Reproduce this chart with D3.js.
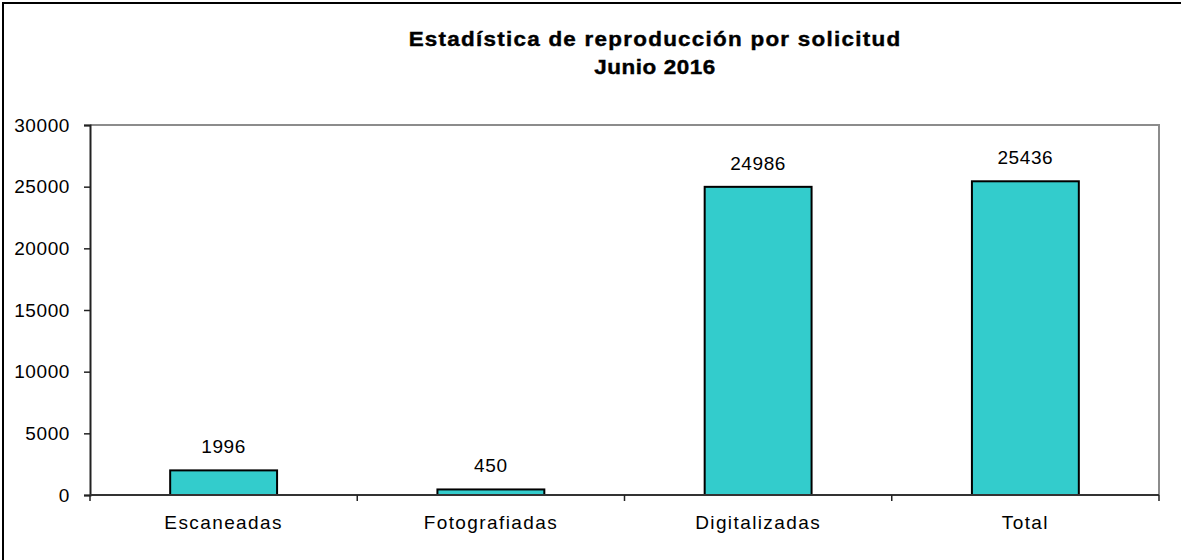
<!DOCTYPE html>
<html>
<head>
<meta charset="utf-8">
<script src="https://cdn.jsdelivr.net/npm/d3@7"></script>
<style>
  body { margin: 0; background: #fff; }
  svg text { font-family: "Liberation Sans", Arial, sans-serif; fill: #000; }
</style>
</head>
<body>
<div id="chart"></div>
<script>
// data
var categories = ["Escaneadas", "Fotografiadas", "Digitalizadas", "Total"];
var values = [1996, 450, 24986, 25436];
var yTicks = [0, 5000, 10000, 15000, 20000, 25000, 30000];
var titleLines = ["Estadística de reproducción por solicitud", "Junio 2016"];

drawChart();

function drawChart() {
    const width = 1181;
    const height = 560;
    const plot = { left: 90, right: 1159, top: 125, bottom: 495 };

    const svg = d3.select("#chart").append("svg")
        .attr("width", width)
        .attr("height", height);

    // outer frame (only top and left show in the picture)
    svg.append("path")
        .attr("d", `M3,${height} L3,3 L${width},3`)
        .attr("fill", "none")
        .attr("stroke", "#000")
        .attr("stroke-width", 2);

    // title, a bit stretched sideways like the original
    svg.append("g").selectAll("text")
        .data(titleLines)
        .enter()
        .append("text")
        .attr("transform", (d, i) => `translate(655,${46 + i * 28}) scale(1.15,1)`)
        .attr("text-anchor", "middle")
        .style("font-size", "19.5px")
        .style("font-weight", "bold")
        .style("stroke", "#000")
        .style("stroke-width", "0.4px")
        .style("letter-spacing", (d, i) => i == 0 ? "1.1px" : "0.5px")
        .text(d => d);

    // scales
    const x = d3.scaleBand()
        .domain(categories)
        .range([plot.left, plot.right])
        .paddingInner(0.6)
        .paddingOuter(0.3);

    const y = d3.scaleLinear()
        .domain([0, 30000])
        .range([plot.bottom, plot.top]);

    // plot frame, top and right in gray
    svg.append("path")
        .attr("d", `M${plot.left},${plot.top} L${plot.right},${plot.top} L${plot.right},${plot.bottom}`)
        .attr("fill", "none")
        .attr("stroke", "#8c8c8c")
        .attr("stroke-width", 2);

    // y axis
    const yAxis = svg.append("g")
        .attr("transform", `translate(${plot.left},0)`)
        .call(d3.axisLeft(y).tickValues(yTicks).tickSize(6).tickPadding(14).tickFormat(d3.format("d")));
    yAxis.select(".domain").attr("stroke", "#222").attr("stroke-width", 2);
    yAxis.selectAll(".tick line").attr("stroke", "#222").attr("stroke-width", 1.5);
    yAxis.selectAll("text")
        .style("font-size", "19px")
        .style("letter-spacing", "0.6px")
        .attr("fill", "#000");

    // bars
    svg.append("g").selectAll("rect")
        .data(values)
        .enter()
        .append("rect")
        .attr("x", (d, i) => x(categories[i]))
        .attr("y", d => y(d))
        .attr("width", x.bandwidth())
        .attr("height", d => y(0) - y(d))
        .attr("fill", "#33CCCC")
        .attr("stroke", "#000")
        .attr("stroke-width", 2);

    // x axis, with ticks between the categories
    const xAxis = svg.append("g")
        .attr("transform", `translate(0,${plot.bottom})`);
    xAxis.append("line")
        .attr("x1", plot.left).attr("x2", plot.right)
        .attr("stroke", "#333").attr("stroke-width", 2);
    xAxis.selectAll(".sep")
        .data(d3.range(categories.length + 1))
        .enter()
        .append("line")
        .attr("class", "sep")
        .attr("x1", i => plot.left + i * (plot.right - plot.left) / categories.length)
        .attr("x2", i => plot.left + i * (plot.right - plot.left) / categories.length)
        .attr("y1", 0).attr("y2", 6)
        .attr("stroke", "#222").attr("stroke-width", 1.5);
    xAxis.selectAll("text")
        .data(categories)
        .enter()
        .append("text")
        .attr("x", d => x(d) + x.bandwidth() / 2)
        .attr("y", 34)
        .attr("text-anchor", "middle")
        .style("font-size", "19px")
        .style("letter-spacing", "1.4px")
        .text(d => d);

    // value labels
    svg.append("g").selectAll("text")
        .data(values)
        .enter()
        .append("text")
        .attr("x", (d, i) => x(categories[i]) + x.bandwidth() / 2)
        .attr("y", d => y(d) - 17)
        .attr("text-anchor", "middle")
        .style("font-size", "19px")
        .style("letter-spacing", "0.6px")
        .text(d => d);
}
</script>
</body>
</html>
